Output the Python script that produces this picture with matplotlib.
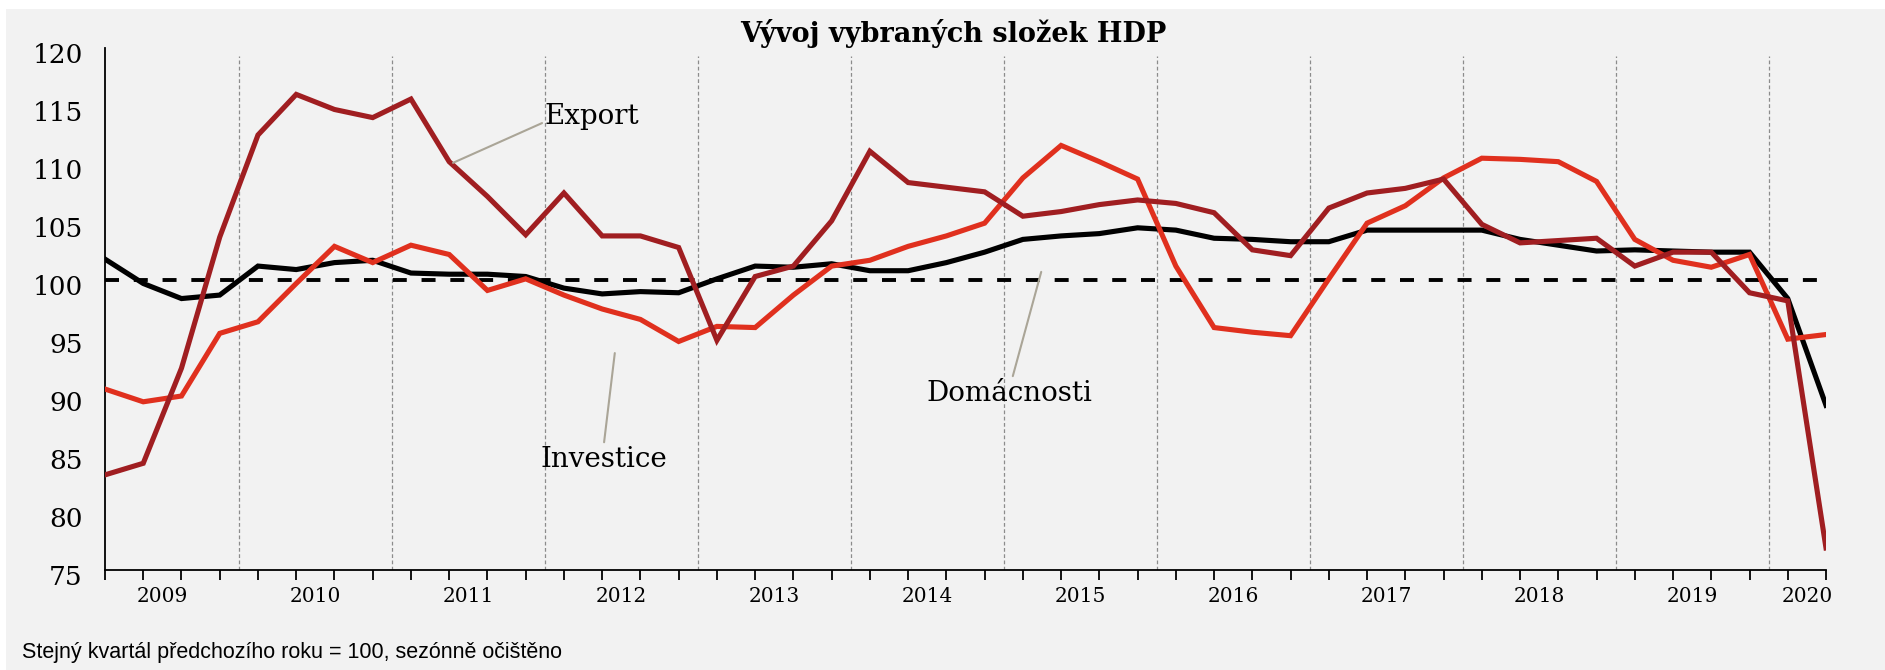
import matplotlib
matplotlib.use('Agg')
import matplotlib.pyplot as plt
import matplotlib.transforms as mtransforms
from matplotlib.patches import Rectangle

# quarterly data 2009Q1 - 2020Q2, same quarter of previous year = 100
years = ['2009', '2010', '2011', '2012', '2013', '2014', '2015', '2016',
         '2017', '2018', '2019', '2020']

domacnosti = [101.8, 99.7, 98.4, 98.7, 101.2, 100.9, 101.5, 101.7,
              100.6, 100.5, 100.5, 100.3, 99.3, 98.8, 99.0, 98.9,
              100.1, 101.2, 101.1, 101.4, 100.8, 100.8, 101.5, 102.4,
              103.5, 103.8, 104.0, 104.5, 104.3, 103.6, 103.5, 103.3,
              103.3, 104.3, 104.3, 104.3, 104.3, 103.5, 103.0, 102.5,
              102.6, 102.5, 102.4, 102.4, 98.4, 89.2]

export = [83.2, 84.2, 92.4, 103.7, 112.5, 116.0, 114.7, 114.0,
          115.6, 110.2, 107.2, 103.9, 107.5, 103.8, 103.8, 102.8,
          94.8, 100.3, 101.2, 105.1, 111.1, 108.4, 108.0, 107.6,
          105.5, 105.9, 106.5, 106.9, 106.6, 105.8, 102.6, 102.1,
          106.2, 107.5, 107.9, 108.7, 104.8, 103.2, 103.4, 103.6,
          101.2, 102.4, 102.4, 98.9, 98.2, 76.9]

investice = [90.6, 89.5, 90.0, 95.4, 96.4, 99.7, 102.9, 101.5,
             103.0, 102.2, 99.1, 100.1, 98.7, 97.5, 96.6, 94.7,
             96.0, 95.9, 98.7, 101.2, 101.7, 102.9, 103.8, 104.9,
             108.8, 111.6, 110.2, 108.7, 101.2, 95.9, 95.5, 95.2,
             100.1, 104.9, 106.4, 108.8, 110.5, 110.4, 110.2, 108.5,
             103.5, 101.7, 101.1, 102.2, 94.9, 95.3]

q = list(range(len(domacnosti)))

c_dark = '#a01e21'
c_red = '#e0301e'

fig = plt.figure(figsize=(18.85, 6.70), dpi=100, facecolor='white')
fig.patches.append(Rectangle((6 / 1885, 0), 1, 1 - 9 / 670, transform=fig.transFigure,
                             facecolor='#f2f2f2', edgecolor='none', zorder=-10))
ax = fig.add_axes([105 / 1885, 1 - 570 / 670, (1826 - 105) / 1885, (570 - 48) / 670])
ax.set_facecolor('#f2f2f2')

# year separators
for k in range(1, len(years)):
    ax.axvline(4 * k - 0.5, ymin=0, ymax=0.985, color='#8c8c8c', lw=0.9,
               linestyle=(0, (3, 2)), zorder=1)

ax.plot([q[0], q[-1]], [100, 100], color='black', lw=2.8, linestyle=(0, (3.6, 3.8)), zorder=2)

ax.plot(q, domacnosti, color='black', lw=3.7, solid_joinstyle='miter', zorder=3)
ax.plot(q, investice, color=c_red, lw=3.7, solid_joinstyle='miter', zorder=4)
ax.plot(q, export, color=c_dark, lw=3.7, solid_joinstyle='miter', zorder=5)

ax.set_xlim(0, 45)
ax.set_ylim(75, 120)

for s in ['top', 'right']:
    ax.spines[s].set_visible(False)
ax.spines['left'].set_linewidth(1.3)
ax.spines['bottom'].set_linewidth(1.3)

ax.set_xticks(q)
ax.set_xticklabels([])
ax.tick_params(axis='x', which='major', direction='out', length=7, width=1.3)
ax.set_xticks([4 * k + 1.5 for k in range(len(years) - 1)] + [44.5], minor=True)
ax.set_xticklabels(years, minor=True, fontsize=14.5, family='DejaVu Serif')
ax.tick_params(axis='x', which='minor', length=0, pad=12)

ax.set_yticks(range(75, 121, 5))
ax.set_yticklabels([str(v) for v in range(75, 121, 5)], fontsize=19, family='DejaVu Serif')
ax.tick_params(axis='y', length=0, pad=16)
off = mtransforms.ScaledTranslation(0, -5 / 100, fig.dpi_scale_trans)
for lab in ax.get_yticklabels():
    lab.set_transform(lab.get_transform() + off)

ax.set_title('Vývoj vybraných složek HDP', fontsize=19.5, fontweight='bold',
             family='DejaVu Serif', pad=3, x=0.493)

lead = dict(arrowstyle='-', color='#aaa597', lw=1.5, shrinkA=0, shrinkB=0)
ax.annotate('Export', xy=(9.1, 110.1), xytext=(11.5, 114.1), fontsize=20,
            family='DejaVu Serif', va='center', ha='left',
            arrowprops=dict(lead, relpos=(0, 0.3)), zorder=6)
ax.annotate('Investice', xy=(13.33, 93.7), xytext=(13.05, 84.5), fontsize=20,
            family='DejaVu Serif', va='center', ha='center',
            arrowprops=dict(lead, relpos=(0.5, 1.15)), zorder=6)
ax.annotate('Domácnosti', xy=(24.48, 100.7), xytext=(23.65, 90.2), fontsize=20,
            family='DejaVu Serif', va='center', ha='center',
            arrowprops=dict(lead, relpos=(0.52, 1.15)), zorder=6)

fig.text(22 / 1885, 1 - 658 / 670, 'Stejný kvartál předchozího roku = 100, sezónně očištěno',
         fontsize=15.5, family='Liberation Sans', va='baseline', ha='left')

fig.savefig('out.png', dpi=100, facecolor='white')
